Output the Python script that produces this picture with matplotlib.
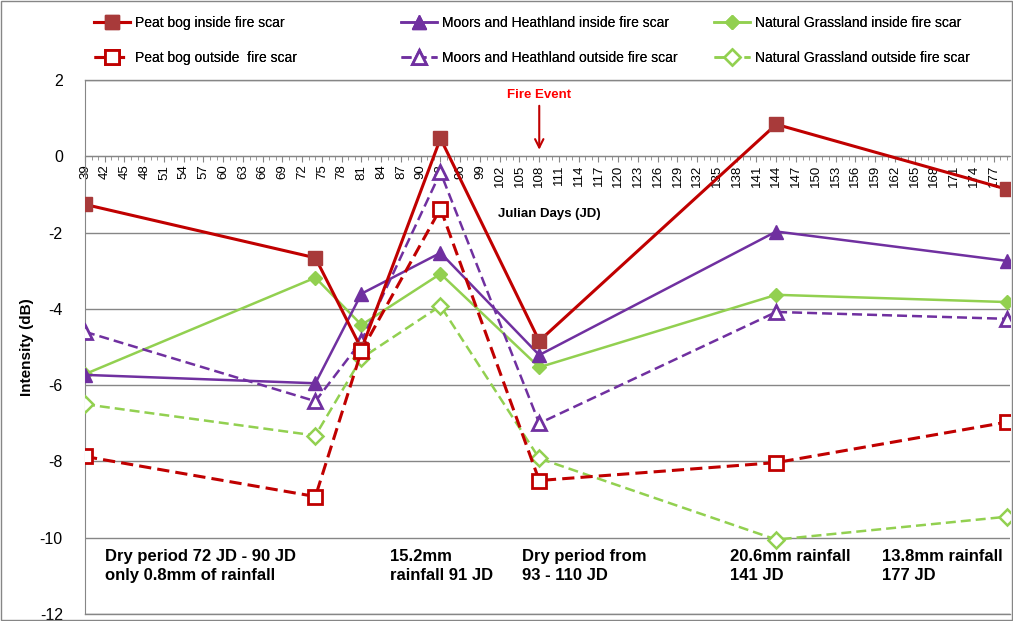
import matplotlib
matplotlib.use("Agg")
import matplotlib.pyplot as plt
from matplotlib.ticker import MultipleLocator
from matplotlib.patches import Rectangle
import numpy as np

plt.rcParams['font.family'] = ['Liberation Sans', 'DejaVu Sans']
plt.rcParams['axes.unicode_minus'] = False

# Acquisition dates (Julian days)
julian_days = [39, 74, 81, 93, 108, 144, 179]

# Backscatter intensity (dB) per land-cover class
peat_inside = [-1.26, -2.66, -5.05, 0.47, -4.84, 0.84, -0.86]
moors_inside = [-5.73, -5.95, -3.60, -2.53, -5.21, -1.97, -2.74]
grass_inside = [-5.71, -3.18, -4.42, -3.08, -5.53, -3.63, -3.82]
peat_outside = [-7.87, -8.92, -5.10, -1.37, -8.50, -8.03, -6.97]
moors_outside = [-4.60, -6.42, -4.84, -0.42, -7.00, -4.08, -4.26]
grass_outside = [-6.50, -7.32, -5.29, -3.92, -7.92, -10.05, -9.45]

series_labels = [
    "Peat bog inside fire scar",
    "Peat bog outside  fire scar",
    "Moors and Heathland inside fire scar",
    "Moors and Heathland outside fire scar",
    "Natural Grassland inside fire scar",
    "Natural Grassland outside fire scar",
]

rain_notes = [
    (42, "Dry period 72 JD - 90 JD\nonly 0.8mm of rainfall"),
    (85.3, "15.2mm\nrainfall 91 JD"),
    (105.4, "Dry period from\n93 - 110 JD"),
    (137, "20.6mm rainfall\n141 JD"),
    (160, "13.8mm rainfall\n177 JD"),
]

RED = "#C00000"
RED_FACE = "#A83A3A"
PURPLE = "#7030A0"
GREEN = "#92D050"

fig = plt.figure(figsize=(10.13, 6.21), dpi=100)
ax = fig.add_axes([0.0839, 0.0113, 0.9131, 0.8597])

x = np.array(julian_days)
h = []
h.append(ax.plot(x, peat_inside, color=RED, lw=2.2, marker='s', ms=10,
                 mfc=RED_FACE, mec=RED_FACE, zorder=5)[0])
h.append(ax.plot(x, peat_outside, color=RED, lw=2.2, ls=(0, (4, 2)), marker='s', ms=10,
                 mfc='white', mec=RED, mew=2, zorder=5)[0])
h.append(ax.plot(x, moors_inside, color=PURPLE, lw=1.8, marker='^', ms=10,
                 mfc=PURPLE, mec=PURPLE, zorder=4)[0])
h.append(ax.plot(x, moors_outside, color=PURPLE, lw=1.8, ls=(0, (4, 2)), marker='^', ms=10,
                 mfc='white', mec=PURPLE, mew=2, zorder=4)[0])
h.append(ax.plot(x, grass_inside, color=GREEN, lw=1.8, marker='D', ms=7,
                 mfc=GREEN, mec=GREEN, zorder=3)[0])
h.append(ax.plot(x, grass_outside, color=GREEN, lw=1.8, ls=(0, (4, 2)), marker='D', ms=8,
                 mfc='white', mec=GREEN, mew=1.8, zorder=3)[0])

ax.set_xlim(39, 179.5)
ax.set_ylim(-12, 2)

# Axes styling: horizontal axis crosses at zero
ax.spines['bottom'].set_position(('data', 0))
ax.spines['bottom'].set_color('#868686')
ax.spines['left'].set_color('#868686')
ax.spines['top'].set_visible(False)
ax.spines['right'].set_visible(False)

ax.xaxis.set_minor_locator(MultipleLocator(1))
ax.set_xticks(np.arange(39, 178, 3))
ax.tick_params(axis='x', which='major', direction='out', length=4, color='#868686',
               labelrotation=90, labelsize=9.5, pad=2)
ax.tick_params(axis='x', which='minor', direction='out', length=3, color='#868686')

ax.set_yticks(np.arange(-12, 3, 2))
ax.tick_params(axis='y', length=0, labelsize=11.5, pad=16)
ax.yaxis.grid(True, color='#868686', lw=1)
ax.set_axisbelow(True)
for gy in (2, -12):
    ax.axhline(gy, color='#868686', lw=1, clip_on=False, zorder=0)

ax.set_ylabel("Intensity (dB)", fontsize=11, fontweight='bold', labelpad=4)

ax.text(109.5, -1.52, "Julian Days (JD)", fontsize=9.5, fontweight='bold',
        ha='center', va='center')

ax.text(108, 1.62, "Fire Event", color='red', fontsize=9.5, fontweight='bold',
        ha='center', va='center')
ax.annotate("", xy=(108, 0.1), xytext=(108, 1.4),
            arrowprops=dict(arrowstyle='->', color=RED, lw=1.5, mutation_scale=15))

for nx, txt in rain_notes:
    ax.text(nx, -10.3, txt, fontsize=12, fontweight='bold', ha='left', va='top',
            linespacing=1.3)

# One legend per column (inside / outside pair per land-cover class)
col_x = [0.083, 0.386, 0.695]
for i, cx in enumerate(col_x):
    leg = fig.legend(h[2 * i:2 * i + 2], series_labels[2 * i:2 * i + 2],
                     loc='upper left', bbox_to_anchor=(cx, 0.99),
                     frameon=False, fontsize=10, handlelength=2.6,
                     labelspacing=1.5, handletextpad=0.4, borderaxespad=0.3)
    fig.add_artist(leg)

fig.add_artist(Rectangle((0.001, 0.001), 0.998, 0.997, transform=fig.transFigure,
                         fill=False, edgecolor='#868686', lw=1))

fig.savefig("out.png", dpi=100)
